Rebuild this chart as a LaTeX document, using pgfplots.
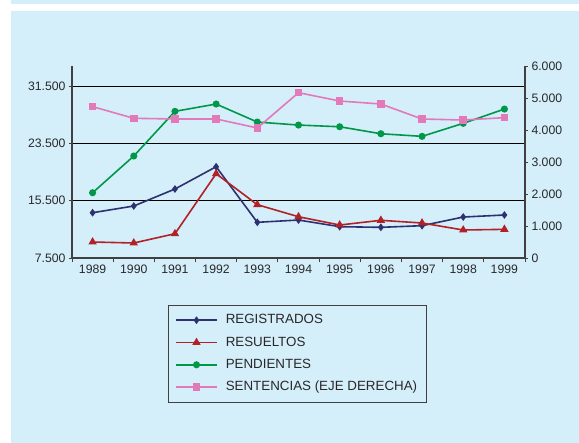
\documentclass[border=0pt]{standalone}
\usepackage{pgfplots}
\pgfplotsset{compat=1.18}
\usepackage{fontspec}
\setmainfont{Liberation Sans}
\definecolor{bgblue}{RGB}{212,238,250}
\definecolor{navyl}{RGB}{46,49,112}
\definecolor{redl}{RGB}{176,34,40}
\definecolor{greenl}{RGB}{0,152,72}
\definecolor{pinkl}{RGB}{226,122,186}
\definecolor{axgray}{RGB}{64,64,64}
\definecolor{txtgray}{RGB}{40,40,40}
\begin{document}
\begin{tikzpicture}
\fill[white] (0bp,0bp) rectangle (579bp,443bp);
\fill[bgblue] (10.5bp,439bp) rectangle (579bp,443bp);
\fill[bgblue] (10.5bp,0bp) rectangle (579bp,432bp);
\begin{axis}[
  at={(72bp,185bp)}, anchor=south west,
  scale only axis, width=453bp, height=192bp,
  xmin=1988.5, xmax=1999.5, ymin=7500, ymax=34300,
  scaled y ticks=false,
  axis x line*=bottom, axis y line*=left,
  axis line style={axgray, line width=1.1bp, -},
  xtick={1989,...,1999},
  xticklabels={1989,1990,1991,1992,1993,1994,1995,1996,1997,1998,1999},
  minor xtick={1988.5,1989.5,...,1999.5},
  major x tick style={draw=none},
  minor x tick style={axgray, line width=0.9bp},
  minor tick length=4bp,
  major tick length=3bp,
  tick align=outside,
  ytick={7500,15500,23500,31500},
  yticklabels={7.500,15.500,23.500,31.500},
  ytick style={axgray, line width=0.9bp},
  ymajorgrids, grid style={black, line width=0.8bp},
  tick label style={font=\fontsize{12.3}{14}\selectfont, text=txtgray},
]
\addplot[navyl, line width=1.6bp, mark=diamond*, mark size=2.6bp] coordinates {
(1989,13820) (1990,14756) (1991,17128) (1992,20240) (1993,12480) (1994,12800)
(1995,11870) (1996,11780) (1997,12010) (1998,13220) (1999,13500)};
\addplot[redl, line width=1.6bp, mark=triangle*, mark size=3.3bp] coordinates {
(1989,9733) (1990,9593) (1991,10890) (1992,19263) (1993,14940) (1994,13260)
(1995,12105) (1996,12760) (1997,12384) (1998,11407) (1999,11500)};
\addplot[greenl, line width=1.6bp, mark=*, mark size=2.7bp] coordinates {
(1989,16610) (1990,21732) (1991,27970) (1992,28990) (1993,26476) (1994,26057)
(1995,25820) (1996,24843) (1997,24480) (1998,26295) (1999,28290)};
\end{axis}
\begin{axis}[
  at={(72bp,185bp)}, anchor=south west,
  scale only axis, width=453bp, height=192bp,
  xmin=1988.5, xmax=1999.5, ymin=0, ymax=6000,
  scaled y ticks=false,
  axis x line=none, axis y line*=right,
  axis line style={axgray, line width=1.1bp, -},
  ytick={0,1000,...,6000},
  yticklabels={0,1.000,2.000,3.000,4.000,5.000,6.000},
  ytick style={axgray, line width=0.9bp},
  major tick length=3bp, tick align=outside,
  tick label style={font=\fontsize{12.3}{14}\selectfont, text=txtgray},
  legend image code/.code={\draw[mark repeat=2,mark phase=2,#1] plot coordinates {(0bp,0bp) (20.5bp,0bp) (41bp,0bp)};},
  legend style={at={(axis description cs:0.2119,-0.2448)}, anchor=north west,
    draw=axgray, fill=none,
    font=\fontsize{13.4}{15}\selectfont, text=txtgray,
    inner xsep=7bp, inner ysep=7bp, row sep=6.3bp, column sep=6bp,
    nodes={inner sep=2bp, text height=9.5bp, text depth=2.5bp}},
  legend cell align=left,
]
\addlegendimage{navyl, line width=1.6bp, mark=diamond*, mark size=2.6bp}
\addlegendentry{REGISTRADOS}
\addlegendimage{redl, line width=1.6bp, mark=triangle*, mark size=3.3bp}
\addlegendentry{RESUELTOS}
\addlegendimage{greenl, line width=1.6bp, mark=*, mark size=2.7bp}
\addlegendentry{PENDIENTES}
\addplot[pinkl, line width=1.6bp, mark=square*, mark size=3bp] coordinates {
(1989,4730) (1990,4365) (1991,4344) (1992,4344) (1993,4063) (1994,5166)
(1995,4906) (1996,4812) (1997,4344) (1998,4312) (1999,4385)};
\addlegendentry{SENTENCIAS (EJE DERECHA)}
\end{axis}
\end{tikzpicture}
\end{document}
